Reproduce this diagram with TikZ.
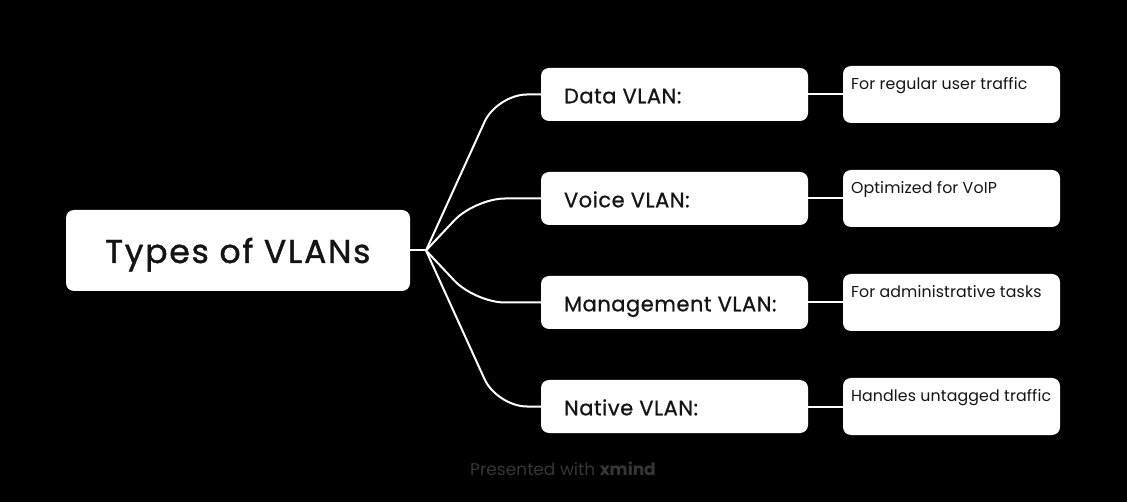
\documentclass[tikz,border=0pt]{standalone}
\usepackage{fontspec}
\setmainfont{Poppins}
\newfontfamily\rootfont{Poppins}[FakeBold=1.2, LetterSpace=5.5]
\newfontfamily\subfont{Poppins}[FakeBold=0.8, LetterSpace=2.5]
\newfontfamily\leaffont{Poppins}[LetterSpace=0.8]
\usetikzlibrary{calc}
\definecolor{ink}{HTML}{141414}
\definecolor{wm}{HTML}{363636}
\tikzset{
  box/.style={draw=none, fill=white, rounded corners=8pt, inner sep=0pt},
  rootbox/.style={box, minimum width=344pt, minimum height=81pt},
  subbox/.style={box, minimum width=267pt, minimum height=53pt},
  leafbox/.style={box, minimum width=217pt, minimum height=57pt},
  roottext/.style={anchor=base west, inner sep=0pt, text=ink, font=\rootfont\fontsize{33}{38}\selectfont},
  subtext/.style={anchor=base west, inner sep=0pt, text=ink, font=\subfont\fontsize{21}{25}\selectfont},
  leaftext/.style={anchor=base west, inner sep=0pt, text=ink, font=\leaffont\fontsize{15.8}{19}\selectfont},
  link/.style={draw=white, line width=2pt, rounded corners=30pt},
  wmtext/.style={anchor=base, inner sep=0pt, text=wm, font=\fontsize{17}{20}\selectfont}
}
\begin{document}
\begin{tikzpicture}[x=1pt,y=-1pt]
\fill[black] (0,0) rectangle (1127,502);
\useasboundingbox (0,0) rectangle (1127,502);

\node[rootbox] (root) at (238,250.5) {};
\node[roottext] (roott) at (105,263) {Types of VLANs};
\coordinate (J) at (426,250.5);

\foreach \n/\yy/\lab/\leaf in {a/94.5/Data VLAN:/For regular user traffic,
                               b/198.5/Voice VLAN:/Optimized for VoIP,
                               c/302.5/Management VLAN:/For administrative tasks,
                               d/406.5/Native VLAN:/Handles untagged traffic}{
  \node[subbox] (s\n) at (674.5,\yy) {};
  \node[subtext] (s\n t) at ($(s\n.west)+(23,8.8)$) {\lab};
  \node[leafbox] (l\n) at (951.5,\yy) {};
  \node[leaftext] (l\n t) at ($(l\n.west)+(8,-4.5)$) {\leaf};
  \draw[draw=white, line width=2pt] (s\n.east) -- (l\n.west);
}

\draw[draw=white, line width=2pt] (root.east) -- (J);
\draw[link] (J) -- (497,94.5) -- (sa.west);
\draw[link] (J) -- (475,198.5) -- (sb.west);
\draw[link] (J) -- (475,302.5) -- (sc.west);
\draw[link] (J) -- (497,406.5) -- (sd.west);

\node[wmtext] (wm) at (563,475) {Presented with \textbf{xmind}};
\end{tikzpicture}
\end{document}
